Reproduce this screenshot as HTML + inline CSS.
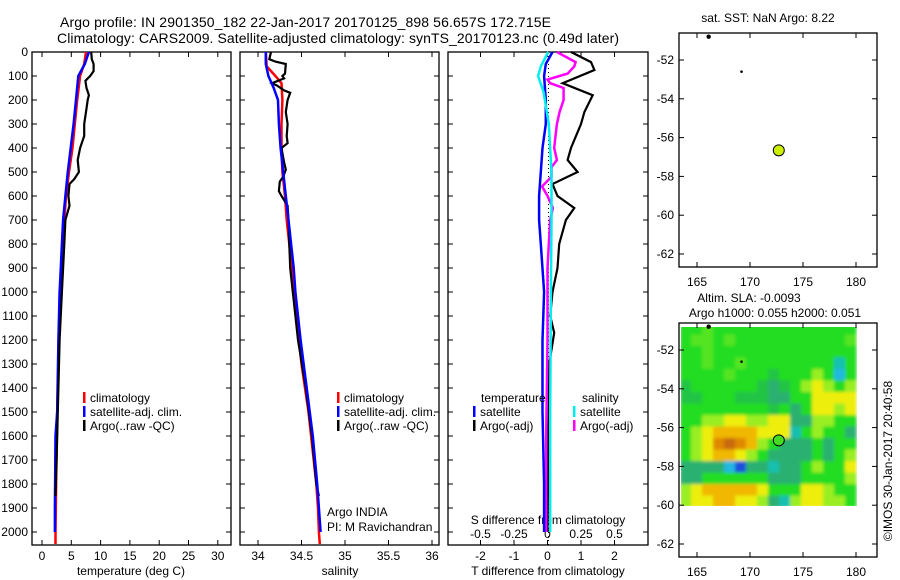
<!DOCTYPE html>
<html><head><meta charset="utf-8"><style>
html,body{margin:0;padding:0;background:#fff}
svg{display:block;font-family:"Liberation Sans",sans-serif}
text{font-size:12px;fill:#000}
</style></head><body>
<svg id="fig" width="900" height="580" viewBox="0 0 900 580">
<defs>
<filter id="blur" x="0" y="0" width="1" height="1"><feGaussianBlur stdDeviation="1.6" edgeMode="duplicate"/></filter>
<clipPath id="hclip"><rect x="681" y="327" width="176" height="179"/></clipPath>
</defs>
<rect width="900" height="580" fill="#fff"/>
<text x="60" y="27" style="font-size:14px" textLength="491">Argo profile: IN 2901350_182 22-Jan-2017 20170125_898 56.657S 172.715E</text>
<text x="57" y="43" style="font-size:14px" textLength="562">Climatology: CARS2009. Satellite-adjusted climatology: synTS_20170123.nc (0.49d later)</text>
<g id="g"></g>
</svg>
<script>
// ---- data ----
const depthTicks=[0,100,200,300,400,500,600,700,800,900,1000,1100,1200,1300,1400,1500,1600,1700,1800,1900,2000];
const tTicks=[0,5,10,15,20,25,30];
const sTicks=[34,34.5,35,35.5,36];
const dTTicks=[-2,-1,0,1,2];
const dSTicks=[-0.5,-0.25,0,0.25,0.5];
const dSTickLabels=["-0.5","-0.25","0","0.25","0.5"];
const climTd=[0,50,100,200,300,400,500,600,700,800,900,1000,1200,1500,1800,2000,2050];
const climT=[7.5,7.2,6.5,6.0,5.6,5.2,4.6,4.1,3.8,3.5,3.3,3.1,2.9,2.6,2.4,2.3,2.3];
const satTd=[0,50,100,200,300,400,500,600,700,800,900,1000,1200,1500,1600,1900,2000];
const satT=[8.0,7.3,6.2,5.8,5.4,4.9,4.4,4.0,3.6,3.4,3.2,3.0,2.8,2.6,2.3,2.2,2.2];
const argoTd=[0,30,50,80,100,120,150,180,200,250,300,350,400,450,500,530,550,600,640,700,800,900,1000,1200,1400,1700,1850];
const argoT=[8.4,8.5,8.8,8.8,8.2,7.4,7.6,8.0,7.8,7.5,7.2,7.2,6.5,6.1,6.3,5.5,4.7,4.5,4.7,4.0,3.8,3.6,3.4,3.0,2.8,2.5,2.3];
const climSd=[0,60,100,130,200,300,400,500,600,700,800,900,1000,1100,1200,1300,1400,1500,1600,1700,1800,1900,2000,2050];
const climS=[34.09,34.1,34.2,34.27,34.28,34.27,34.27,34.28,34.31,34.33,34.36,34.39,34.41,34.44,34.47,34.5,34.54,34.58,34.61,34.64,34.67,34.69,34.7,34.71];
const satSd=[0,50,100,150,200,300,400,500,600,700,800,900,1000,1200,1400,1600,1800,1900,2000];
const satS=[34.09,34.09,34.12,34.18,34.23,34.24,34.26,34.29,34.32,34.35,34.38,34.41,34.43,34.49,34.56,34.63,34.68,34.7,34.72];
const argoSd=[0,30,40,50,90,100,110,130,140,160,170,200,250,300,350,380,400,460,490,520,540,580,600,640,700,800,900,1000,1200,1400,1600,1800,1850];
const argoS=[34.15,34.13,34.2,34.32,34.31,34.28,34.3,34.16,34.22,34.3,34.37,34.34,34.32,34.34,34.33,34.34,34.27,34.3,34.32,34.29,34.25,34.24,34.27,34.34,34.35,34.36,34.37,34.4,34.46,34.55,34.62,34.67,34.7];
const dTsatD=[0,50,100,200,300,400,500,600,700,800,1000,1200,1500,1800,2000];
const dTsat=[0.15,-0.05,-0.1,-0.05,-0.05,-0.15,-0.2,-0.25,-0.25,-0.2,-0.1,-0.15,-0.15,-0.1,-0.1];
const dTargoD=[0,42,75,130,180,250,300,400,450,500,550,600,650,700,800,900,1000,1100,1170,1300,1600,2000];
const dTargo=[0.7,1.3,1.4,0.45,1.35,1.1,1.0,0.7,0.6,0.9,0.15,0.3,0.8,0.55,0.35,0.3,0.15,0.08,0.2,0.05,0.03,0.0];
const dSargoD=[0,42,60,90,115,130,150,200,250,300,350,400,450,480,520,560,600,650,700,800,900,1200,1600,2000];
const dSargo=[0.07,0.21,0.2,0.15,0.0,0.02,0.12,0.12,0.09,0.07,0.06,0.05,0.07,0.03,0.03,-0.04,0.0,0.04,0.02,0.01,0.0,0.0,-0.01,-0.01];
const dSsatD=[0,60,100,165,300,500,700,1000,1500,2000];
const dSsat=[0.005,-0.05,-0.07,-0.03,0.01,0.03,0.03,0.025,0.02,0.02];
const latTicks=[-52,-54,-56,-58,-60,-62];
const lonTicks=[165,170,175,180];
const argoLon=172.715, argoLat=-56.657;
const otherLon=[166.1,169.2], otherLat=[-50.8,-52.6];
const slaLevels=[
[1,1,1.5,1,1,1,1,1,1,1,1,1,1,1,1,1],
[1,1.5,1.5,1,1.5,1,1,1,1,1,1,1,1,1,1,1.5],
[1,1,1.5,1,1,1,1,1,1,1,1,1,1,1,1,1],
[1,1,1.5,1,1,1.5,1,1,1,1,1,1,1,1,-1,1],
[1,1,1,1,1.5,1,1,1,0.5,1,1,1,2,1,-2,1],
[0.5,1,1,1,1,1,1,0.5,0,0.5,1,2,3,2,1,2],
[0.5,0.5,1,1,1,0.5,0.5,0.5,0,0,1,1,3,3,3,3],
[1,1,1,1,1,1,1,1,0.5,1,0,1,3,3,2,3],
[1,1,2,2,3,3,2,2,3,3,0,0,2,2,1,1],
[1,2,3,4,4,4,4,3,3,3,-1,1,2,1,1,0],
[1,2,3,5,6,5,4,2,1,0,0,0,1,0,1,1],
[1,2,3,4,4,3,2,1,0,0,0,0,1,0,1,2],
[0,0,0,0,-2,-3,0,0,-1,0,0,1,2,1,1,3],
[0,0,1,1,1,1,1,1,0,0,0,1,1,1,1,2],
[2,3,4,4,4,4,4,3,1,1,1,3,3,2,1,1],
[2,3,3,4,4,3,3,2,0,-1,2,3,3,2,2,1]];
const slaColors={"-3":"#1a50dc","-2":"#22b8e0","-1":"#18c0b0","0":"#2cb070","0.5":"#22c444","1":"#22dd22","1.5":"#55e422","2":"#99ee22","3":"#eeee11","4":"#f0b800","5":"#e08800","6":"#c86a10"};

// ---- drawing ----
const NS="http://www.w3.org/2000/svg";
const G=document.getElementById('g');
function mk(tag,attrs,parent){const e=document.createElementNS(NS,tag);for(const k in attrs)e.setAttribute(k,attrs[k]);(parent||G).appendChild(e);return e;}
function txt(x,y,s,anchor,parent){const e=mk('text',{x:x,y:y,'text-anchor':anchor||'start'},parent);e.textContent=s;return e;}
const top0=52, bot0=545;
const yD=d=>top0+0.24*d;
const xT=t=>42+5.86*t;
const xS=s=>258+87*(s-34);
const xdT=t=>547.5+33.5*t;
const xdS=s=>547.5+134*s;
const panels=[[32,231],[240,439],[448,648]];
function line(ds,vs,fx,color,w,name){
  const pts=ds.map((d,i)=>fx(vs[i]).toFixed(1)+','+yD(d).toFixed(1)).join(' ');
  const p=mk('polyline',{points:pts,fill:'none',stroke:color,'stroke-width':w,'stroke-linejoin':'miter'});
  
  
}
panels.forEach((p,i)=>{
  const r=mk('rect',{x:p[0],y:top0,width:p[1]-p[0],height:bot0-top0,fill:'none',stroke:'#000','stroke-width':1.3});
  
  
  depthTicks.forEach(d=>{mk('line',{x1:p[0],x2:p[0]+5,y1:yD(d),y2:yD(d),stroke:'#000'});mk('line',{x1:p[1],x2:p[1]-5,y1:yD(d),y2:yD(d),stroke:'#000'});});
});
depthTicks.forEach(d=>{const t=txt(28,yD(d)+4,String(d),'end');
  
  });
function xticks(vals,fx,labels,ly){vals.forEach((v,i)=>{const x=fx(v);mk('line',{x1:x,x2:x,y1:bot0,y2:bot0-5,stroke:'#000'});mk('line',{x1:x,x2:x,y1:top0,y2:top0+5,stroke:'#000'});
  const t=txt(x,ly,labels?labels[i]:String(v),'middle');
  
  });}
xticks(tTicks,xT,null,560);
xticks(sTicks,xS,null,560);
xticks(dTTicks,xdT,null,560);
dSTicks.forEach((v,i)=>{const t=txt(xdS(v),538,dSTickLabels[i],'middle');
  
  });
[[131,'temperature (deg C)','t-axis-title'],[340,'salinity','s-axis-title'],[548,'T difference from climatology','tdiff-axis-title']].forEach(a=>{const t=txt(a[0],575,a[1],'middle');
  
  });
const st=txt(548,524,'S difference from climatology','middle');


mk('line',{x1:548.5,x2:548.5,y1:top0,y2:bot0,stroke:'#000','stroke-dasharray':'1,3'});
line(climTd,climT,xT,'#f00',2.5,'temp-climatology-line');
line(satTd,satT,xT,'#00f',2.5,'temp-satellite-line');
line(argoTd,argoT,xT,'#000',2.2,'temp-argo-line');
line(climSd,climS,xS,'#f00',2.5,'sal-climatology-line');
line(argoSd,argoS,xS,'#000',2.2,'sal-argo-line');
line(satSd,satS,xS,'#00f',2.5,'sal-satellite-line');
line(dTargoD,dTargo,xdT,'#000',2.2,'tdiff-argo-line');
line(dSargoD,dSargo,xdS,'#f0f',2.5,'sdiff-argo-line');
line(dTsatD,dTsat,xdT,'#00f',2.5,'tdiff-satellite-line');
line(dSsatD,dSsat,xdS,'#0ee',2.5,'sdiff-satellite-line');
function leg(x,y,color,label,name){mk('rect',{x:x,y:y-10,width:2.5,height:11,fill:color});const t=txt(x+7,y,label);
  
  }
leg(83,402,'#f00','climatology','legend-t-climatology');leg(83,416,'#00f','satellite-adj. clim.','legend-t-satellite');leg(83,430,'#000','Argo(..raw -QC)','legend-t-argo');
leg(337,402,'#f00','climatology','legend-s-climatology');leg(337,416,'#00f','satellite-adj. clim.','legend-s-satellite');leg(337,430,'#000','Argo(..raw -QC)','legend-s-argo');
let lt=txt(481,402,'temperature');
leg(473,416,'#00f','satellite','legend-tdiff-satellite');leg(473,430,'#000','Argo(-adj)','legend-tdiff-argo');
lt=txt(582,402,'salinity');
leg(573,416,'#0ee','satellite','legend-sdiff-satellite');leg(573,430,'#f0f','Argo(-adj)','legend-sdiff-argo');
lt=txt(327,516,'Argo INDIA');
lt=txt(327,531,'PI: M Ravichandran');

const xL=lon=>697+10.6*(lon-165);
function drawMap(top,idx){
  const yL=lat=>top+27-19.4*(lat+52);
  if(idx===2){
    const outer=mk('g',{'clip-path':'url(#hclip)'});
    const hg=mk('g',{filter:'url(#blur)'},outer);
    
    
    const rows=slaLevels.length, cols=slaLevels[0].length;
    const lon0=163.4,lon1=180.0,lat0=-50.6,lat1=-60.1;
    const cw=(lon1-lon0)/cols, ch=(lat0-lat1)/rows;
    slaLevels.forEach((row,r)=>row.forEach((v,c)=>{
      const x=xL(lon0+c*cw), y=yL(lat0-r*ch);
      const cell=mk('rect',{x:x.toFixed(1),y:y.toFixed(1),width:(xL(lon0+(c+1)*cw)-x+0.6).toFixed(1),height:(yL(lat0-(r+1)*ch)-y+0.6).toFixed(1),fill:slaColors[String(v)]},hg);
      
      
    }));
  }
  const b=mk('rect',{x:679,y:top,width:198,height:234,fill:'none',stroke:'#000','stroke-width':1.3});
  
  
  latTicks.forEach(l=>{const y=yL(l);mk('line',{x1:679,x2:684,y1:y,y2:y,stroke:'#000'});mk('line',{x1:877,x2:872,y1:y,y2:y,stroke:'#000'});
    const t=txt(674,y+4,String(l),'end');
    
    });
  lonTicks.forEach(l=>{const x=xL(l);mk('line',{x1:x,x2:x,y1:top,y2:top+5,stroke:'#000'});mk('line',{x1:x,x2:x,y1:top+234,y2:top+229,stroke:'#000'});
    const t=txt(x,top+253,String(l),'middle');
    
    });
  otherLon.forEach((lo,i)=>{const d=mk('circle',{cx:xL(lo),cy:yL(otherLat[i]),r:i===0?2.2:1.3,fill:'#000'});
    
    });
  const c=mk('circle',{cx:xL(argoLon),cy:yL(argoLat),r:5.5,fill:idx===1?'#ccee00':'#44dd22',stroke:'#000','stroke-width':1});
  
  
}
drawMap(33,1);
drawMap(323,2);
let mt=txt(768,22,'sat. SST: NaN Argo: 8.22','middle');
mt=txt(749,302,'Altim. SLA: -0.0093','middle');
mt=txt(775,317,'Argo h1000: 0.055 h2000: 0.051','middle');
mt=txt(0,0,'©IMOS 30-Jan-2017 20:40:58','middle');mt.setAttribute('transform','translate(892,461) rotate(-90)');

</script>
</body></html>
